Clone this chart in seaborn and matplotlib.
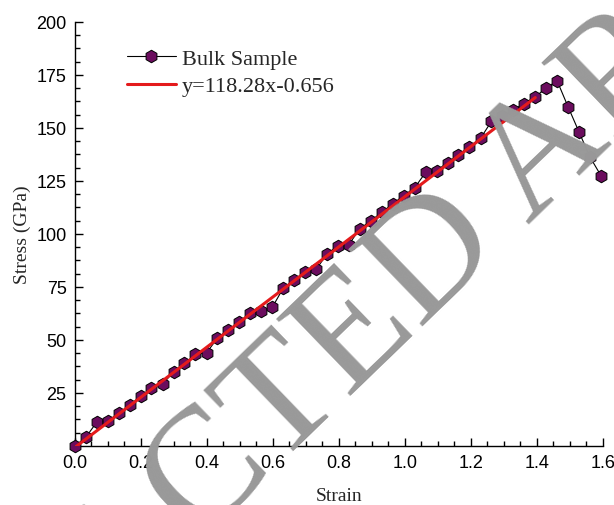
import matplotlib
matplotlib.use("Agg")
import matplotlib.pyplot as plt
from matplotlib.ticker import MultipleLocator
import seaborn as sns
import pandas as pd

# strain / stress
strain = [0.000, 0.033, 0.066, 0.100, 0.133, 0.166, 0.199, 0.232, 0.266, 0.299,
          0.332, 0.365, 0.399, 0.432, 0.465, 0.498, 0.531, 0.565, 0.598, 0.631,
          0.664, 0.697, 0.731, 0.764, 0.797, 0.830, 0.863, 0.897, 0.930, 0.963,
          0.996, 1.029, 1.063, 1.096, 1.129, 1.162, 1.195, 1.229, 1.262, 1.295,
          1.328, 1.361, 1.395, 1.428, 1.461, 1.494, 1.527, 1.560, 1.594]
stress = [0.0, 4.1, 11.2, 11.9, 15.5, 19.3, 23.4, 27.3, 29.2, 35.0,
          39.0, 43.2, 43.9, 51.0, 54.8, 58.6, 62.7, 63.5, 65.4, 74.4,
          78.3, 82.2, 83.3, 90.6, 94.5, 95.0, 102.4, 106.3, 110.2, 114.2,
          118.1, 121.7, 129.1, 129.9, 133.7, 137.3, 141.2, 145.1, 153.1, 155.8,
          158.5, 161.5, 164.8, 168.7, 172.3, 160.1, 148.3, 136.5, 127.5]

fit_slope = 118.28
fit_intercept = -0.656
fit_strain = [0.0, 1.395]

x_ticks = [0.0, 0.2, 0.4, 0.6, 0.8, 1.0, 1.2, 1.4, 1.6]
y_ticks = [25, 50, 75, 100, 125, 150, 175, 200]

df = pd.DataFrame({"Strain": strain, "Stress": stress})
fit_df = pd.DataFrame({"Strain": fit_strain,
                       "Stress": [fit_slope * s + fit_intercept for s in fit_strain]})

sns.set_theme(style="ticks")
plt.rcParams["font.family"] = ["Liberation Serif", "DejaVu Serif"]

fig = plt.figure(figsize=(6.14, 5.06), dpi=100)
ax = fig.add_axes([0.122, 0.1166, 0.86, 0.838])

sns.lineplot(data=df, x="Strain", y="Stress", ax=ax, color="black", linewidth=0.8,
             marker="h", markersize=9, markerfacecolor="#6b0d5e",
             markeredgecolor="black", markeredgewidth=0.7,
             label="Bulk Sample", clip_on=False, zorder=3)
sns.lineplot(data=fit_df, x="Strain", y="Stress", ax=ax, color="#e41a1c",
             linewidth=2.2, label="y=118.28x-0.656", zorder=4)

ax.set_xlim(0, 1.6)
ax.set_ylim(0, 200)
ax.set_xticks(x_ticks)
ax.set_xticklabels([f"{t:.1f}" for t in x_ticks])
ax.set_yticks(y_ticks)
ax.xaxis.set_minor_locator(MultipleLocator(0.05))
ax.yaxis.set_minor_locator(MultipleLocator(6.25))
ax.tick_params(which="major", direction="in", length=6, width=1, colors="black",
               labelsize=13, pad=6)
ax.tick_params(which="minor", direction="in", length=3.5, width=1, colors="black")
for lab in ax.get_xticklabels() + ax.get_yticklabels():
    lab.set_fontfamily("Liberation Sans")
for side in ["top", "right"]:
    ax.spines[side].set_visible(False)
for side in ["left", "bottom"]:
    ax.spines[side].set_linewidth(1)
    ax.spines[side].set_color("black")

ax.set_xlabel("Strain", fontsize=14, labelpad=11)
ax.set_ylabel("Stress (GPa)", fontsize=14, labelpad=4)

ax.legend(loc="upper left", bbox_to_anchor=(0.098, 0.938), frameon=False,
          fontsize=16, handlelength=2.2, handletextpad=0.3, labelspacing=0.32,
          borderaxespad=0, borderpad=0)

# watermark over the whole figure
fig.text(-0.3077, -0.8134, "RETRACTED ARTICLE", fontsize=118, color="#999999",
         rotation=44, rotation_mode="anchor", ha="left", va="baseline",
         family=["Liberation Serif"], zorder=10)

fig.savefig("out.png", dpi=100)
